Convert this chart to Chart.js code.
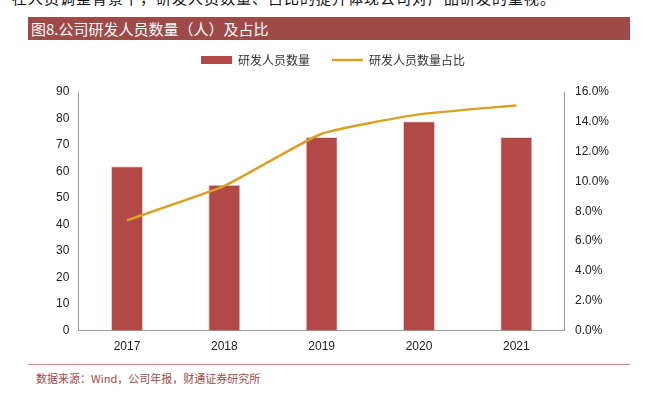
<!DOCTYPE html>
<html>
<head>
<meta charset="utf-8">
<script src="https://cdn.jsdelivr.net/npm/chart.js@4"></script>
<style>
  html, body { margin: 0; padding: 0; background: #fff; }
  body { width: 648px; height: 397px; position: relative; overflow: hidden; font-family: "Noto Sans CJK SC", sans-serif; }
  #intro { position: absolute; left: 12px; top: -13px; font-size: 15px; color: #111; white-space: nowrap; letter-spacing: 1px; }
  #banner { position: absolute; left: 28px; top: 17px; width: 602px; height: 23px; background: #9e4a48; color: #fff; font-size: 15px; line-height: 23px; padding-left: 3px; box-sizing: border-box; }
  #wrap { position: absolute; left: 0; top: 32px; width: 648px; height: 331px; }
  #rule { position: absolute; left: 28px; top: 364px; width: 602px; height: 1px; background: #c98c8a; }
  #source { position: absolute; left: 36px; top: 370px; font-size: 11px; color: #9e4a48; }
</style>
</head>
<body>
<div id="intro">在人员调整背景下，研发人员数量、占比的提升体现公司对产品研发的重视。</div>
<div id="banner">图8.公司研发人员数量（人）及占比</div>
<div id="wrap"><canvas id="grafica"></canvas></div>
<div id="rule"></div>
<div id="source">数据来源：Wind，公司年报，财通证券研究所</div>
<script>
const anios = ['2017', '2018', '2019', '2020', '2021'];
const personal = [62, 55, 73, 79, 73];
const proporcion = [7.4, 9.7, 13.2, 14.5, 15.1];

// espacio extra bajo la leyenda
const margenLeyenda = {
    id: 'margenLeyenda',
    beforeInit(chart) {
        const fitOriginal = chart.legend.fit;
        chart.legend.fit = function () {
            fitOriginal.bind(chart.legend)();
            this.height += 16;
        };
    }
};

const ctx = document.getElementById('grafica').getContext('2d');
const grafica = new Chart(ctx, {
    data: {
        labels: anios,
        datasets: [
            {
                type: 'line',
                label: '研发人员数量占比',
                data: proporcion,
                borderColor: '#dba026',
                backgroundColor: '#dba026',
                borderWidth: 2.5,
                pointRadius: 0,
                pointStyle: 'line',
                tension: 0.15,
                yAxisID: 'y1',
                order: 0
            },
            {
                type: 'bar',
                label: '研发人员数量',
                data: personal,
                backgroundColor: '#b24947',
                borderColor: '#ecd2d2',
                borderWidth: 1,
                pointStyle: 'rect',
                barPercentage: 0.33,
                categoryPercentage: 1,
                yAxisID: 'y',
                order: 1
            }
        ]
    },
    options: {
        responsive: true,
        maintainAspectRatio: false,
        animation: false,
        layout: { padding: { left: 51, right: 33, top: 0, bottom: 0 } },
        plugins: {
            legend: {
                display: true,
                reverse: true,
                labels: {
                    font: { family: '"Noto Sans CJK SC"', size: 12 },
                    color: '#333',
                    usePointStyle: true,
                    pointStyleWidth: 31,
                    boxHeight: 8,
                    padding: 22,
                    generateLabels: function (chart) {
                        const items = Chart.defaults.plugins.legend.labels.generateLabels(chart);
                        items.forEach(function (it) {
                            if (it.datasetIndex === 0) { it.lineWidth = 2.5; it.strokeStyle = '#dba026'; }
                            else { it.lineWidth = 0; }
                        });
                        return items;
                    }
                }
            },
            tooltip: { enabled: false }
        },
        scales: {
            x: {
                grid: { display: false, drawTicks: false },
                border: { color: '#999' },
                ticks: { color: '#222', font: { family: 'Liberation Sans', size: 12 }, padding: 9 }
            },
            y: {
                position: 'left',
                min: 0, max: 90,
                ticks: { stepSize: 10, color: '#222', font: { family: 'Liberation Sans', size: 12 }, padding: 5 },
                grid: { display: false, drawTicks: true, tickLength: 4, color: '#999' },
                border: { color: '#999' }
            },
            y1: {
                position: 'right',
                min: 0, max: 16,
                ticks: {
                    stepSize: 2, color: '#222', font: { family: 'Liberation Sans', size: 12 }, padding: 6,
                    callback: function (v) { return v.toFixed(1) + '%'; }
                },
                grid: { display: false, drawTicks: true, tickLength: 4, color: '#999' },
                border: { color: '#999' }
            }
        }
    },
    plugins: [margenLeyenda]
});
</script>
</body>
</html>
